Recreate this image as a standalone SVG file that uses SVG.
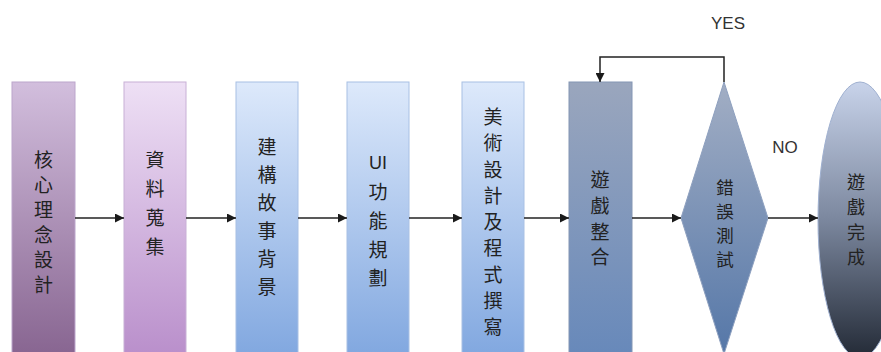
<svg xmlns="http://www.w3.org/2000/svg" width="881" height="352" viewBox="0 0 881 352">
<defs>
<linearGradient id="g1" x1="0" y1="0" x2="0" y2="1"><stop offset="0" stop-color="#d2bedd"/><stop offset="1" stop-color="#86638f"/></linearGradient>
<linearGradient id="g2" x1="0" y1="0" x2="0" y2="1"><stop offset="0" stop-color="#eee0f5"/><stop offset="1" stop-color="#b88dca"/></linearGradient>
<linearGradient id="g3" x1="0" y1="0" x2="0" y2="1"><stop offset="0" stop-color="#dde9fb"/><stop offset="1" stop-color="#7fa6df"/></linearGradient>
<linearGradient id="g6" x1="0" y1="0" x2="0" y2="1"><stop offset="0" stop-color="#9aa6bd"/><stop offset="1" stop-color="#6688ba"/></linearGradient>
<linearGradient id="g7" x1="0" y1="0" x2="0" y2="1"><stop offset="0" stop-color="#a2aec4"/><stop offset="1" stop-color="#5577a8"/></linearGradient>
<linearGradient id="g8" x1="0" y1="0" x2="0" y2="1"><stop offset="0" stop-color="#c8d3ea"/><stop offset="0.5" stop-color="#7b879e"/><stop offset="1" stop-color="#232a36"/></linearGradient>
<marker id="ah" viewBox="0 0 10 10" refX="10" refY="5" markerWidth="9" markerHeight="9" markerUnits="userSpaceOnUse" orient="auto"><path d="M0,0 L10,5 L0,10 z" fill="#1a1a1a"/></marker>
</defs>
<style>
.t{font-family:"Noto Sans CJK TC","Noto Sans CJK SC",sans-serif;font-size:19px;fill:#222;text-anchor:middle}
.d{font-size:17.5px}
.lbl{font-family:"Liberation Sans",Arial,sans-serif;font-size:17px;fill:#333;text-anchor:middle}
.c{fill:none;stroke:#222;stroke-width:1.5}
</style>
<g id="n1"><rect x="12" y="82" width="63" height="280" fill="url(#g1)" stroke="#bca6cc"/>
<text class="t" x="43.5" y="167">核</text><text class="t" x="43.5" y="192">心</text><text class="t" x="43.5" y="217">理</text><text class="t" x="43.5" y="242">念</text><text class="t" x="43.5" y="267">設</text><text class="t" x="43.5" y="292">計</text></g>
<g id="n2"><rect x="124" y="82" width="62" height="280" fill="url(#g2)" stroke="#c8b0d6"/>
<text class="t" x="155" y="167">資</text><text class="t" x="155" y="196">料</text><text class="t" x="155" y="225">蒐</text><text class="t" x="155" y="254">集</text></g>
<g id="n3"><rect x="236" y="82" width="62" height="280" fill="url(#g3)" stroke="#a8c0e4"/>
<text class="t" x="267" y="154">建</text><text class="t" x="267" y="182">構</text><text class="t" x="267" y="210">故</text><text class="t" x="267" y="238">事</text><text class="t" x="267" y="266">背</text><text class="t" x="267" y="294">景</text></g>
<g id="n4"><rect x="347" y="82" width="62" height="280" fill="url(#g3)" stroke="#a8c0e4"/>
<text class="lbl" x="378" y="169" style="font-size:18px;fill:#222">UI</text><text class="t" x="378" y="199">功</text><text class="t" x="378" y="228">能</text><text class="t" x="378" y="257">規</text><text class="t" x="378" y="285">劃</text></g>
<g id="n5"><rect x="462" y="82" width="62" height="280" fill="url(#g3)" stroke="#a8c0e4"/>
<text class="t" x="493" y="124">美</text><text class="t" x="493" y="150">術</text><text class="t" x="493" y="177">設</text><text class="t" x="493" y="203">計</text><text class="t" x="493" y="229">及</text><text class="t" x="493" y="255">程</text><text class="t" x="493" y="282">式</text><text class="t" x="493" y="308">撰</text><text class="t" x="493" y="334">寫</text></g>
<g id="n6"><rect x="569" y="82" width="63" height="280" fill="url(#g6)" stroke="#8496b4"/>
<text class="t" x="600" y="187">遊</text><text class="t" x="600" y="213">戲</text><text class="t" x="600" y="239">整</text><text class="t" x="600" y="264">合</text></g>
<g id="n7"><polygon points="724,82 768,218 724,354 681,218" fill="url(#g7)" stroke="#8ea0bf"/>
<text class="t d" x="725" y="194">錯</text><text class="t d" x="725" y="218">誤</text><text class="t d" x="725" y="242">測</text><text class="t d" x="725" y="266">試</text></g>
<g id="n8"><ellipse cx="860" cy="220" rx="42" ry="138" fill="url(#g8)" stroke="#9fb0d0"/>
<text class="t" x="856" y="189" style="font-size:18px">遊</text><text class="t" x="856" y="214" style="font-size:18px">戲</text><text class="t" x="856" y="239" style="font-size:18px">完</text><text class="t" x="856" y="264" style="font-size:18px">成</text></g>
<g id="connectors">
<line class="c" x1="75" y1="218" x2="124" y2="218" marker-end="url(#ah)"/>
<line class="c" x1="186" y1="218" x2="236" y2="218" marker-end="url(#ah)"/>
<line class="c" x1="298" y1="218" x2="347" y2="218" marker-end="url(#ah)"/>
<line class="c" x1="409" y1="218" x2="462" y2="218" marker-end="url(#ah)"/>
<line class="c" x1="524" y1="218" x2="569" y2="218" marker-end="url(#ah)"/>
<line class="c" x1="632" y1="218" x2="681" y2="218" marker-end="url(#ah)"/>
<line class="c" x1="768" y1="218" x2="818" y2="218" marker-end="url(#ah)"/>
<polyline class="c" points="724,82 724,57 600,57 600,82" marker-end="url(#ah)"/>
<text class="lbl" x="728" y="29">YES</text>
<text class="lbl" x="785" y="153">NO</text>
</g>
</svg>
